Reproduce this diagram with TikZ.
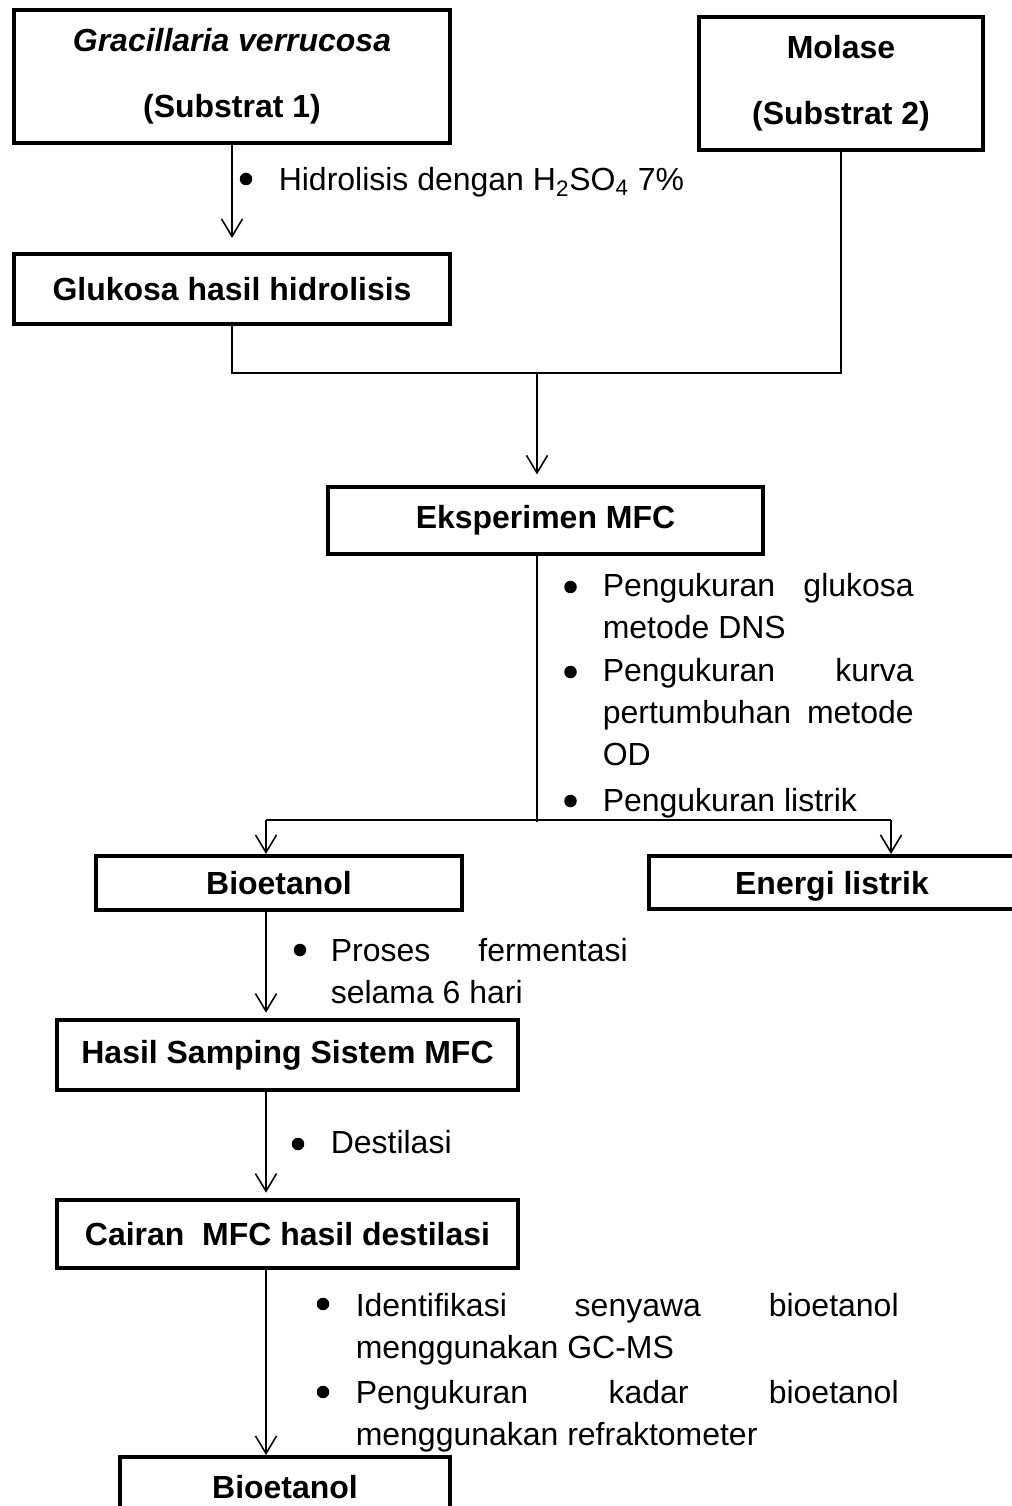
\documentclass[tikz,border=0pt]{standalone}
\usepackage{fontspec}
\setmainfont{Liberation Sans}
\usetikzlibrary{arrows.meta}

\begin{document}
\begin{tikzpicture}[x=0.02cm,y=-0.02cm,>={Straight Barb[length=10pt,width=12pt]},
  line width=0.9pt,
  box/.style={draw,line width=2.3pt,inner sep=0pt,align=center,
    font={\bfseries\fontsize{18.2}{37.5}\selectfont}},
  txt/.style={anchor=base west,inner sep=0pt,font={\fontsize{18.2}{24.1}\selectfont}},
  list/.style={txt,align=justify,
    font={\fontsize{18.2}{24.1}\selectfont\hyphenpenalty=10000\tolerance=10000}},
  dot/.style={circle,fill,inner sep=0pt,minimum size=0.25cm}]
  \useasboundingbox (0,0) rectangle (1011,1506);

  % substrates
  \node[box,minimum width=8.72cm,minimum height=2.66cm] (gv) at (232,76.5)
    {\textit{Gracillaria verrucosa}\\(Substrat 1)};
  \node[box,minimum width=5.68cm,minimum height=2.66cm] (mol) at (841,83.5)
    {Molase\\(Substrat 2)};
  \node[box,minimum width=8.72cm,minimum height=1.40cm] (glu) at (232,289)
    {Glukosa hasil hidrolisis};
  \node[box,minimum width=8.70cm,minimum height=1.34cm] (mfc) at (545.5,520.5)
    {Eksperimen MFC};
  % products
  \node[box,minimum width=7.32cm,minimum height=1.08cm] (bio) at (279,883)
    {Bioetanol};
  \node[box,minimum width=7.32cm,minimum height=1.06cm,text depth=0pt] (el) at (832,882.5)
    {Energi listrik};
  \node[box,minimum width=9.22cm,minimum height=1.40cm] (hs) at (287.5,1055)
    {Hasil Samping Sistem MFC};
  \node[box,minimum width=9.22cm,minimum height=1.36cm] (cd) at (287.5,1234)
    {Cairan~ MFC hasil destilasi};
  \node[box,minimum width=6.60cm,minimum height=1.20cm] (bio2) at (285,1487)
    {Bioetanol};

  % steps
  \node[dot] (d1) at (246,179) {};
  \node[txt] (hid) at (278,191) {Hidrolisis dengan H\textsubscript{2}SO\textsubscript{4} 7\%};
  \foreach \n/\y in {2/587,3/672,4/801}
    \node[dot] (d\n) at (570.5,\y) {};
  \node[list,text width=6.22cm] (dns) at (602,596) {Pengukuran glukosa metode DNS};
  \node[list,text width=6.22cm] (od) at (602,681) {Pengukuran kurva pertumbuhan metode OD};
  \node[txt] (ls) at (602,811) {Pengukuran listrik};
  \node[dot] (d5) at (300,950) {};
  \node[list,text width=5.94cm] (fer) at (330,961) {Proses fermentasi selama 6 hari};
  \node[dot] (d6) at (298,1144) {};
  \node[txt] (des) at (330,1153) {Destilasi};
  \foreach \n/\y in {7/1304,8/1392}
    \node[dot] (d\n) at (323,\y) {};
  \node[list,text width=10.86cm] (gc) at (355,1316) {Identifikasi senyawa bioetanol menggunakan GC-MS};
  \node[list,text width=10.86cm] (ref) at (355,1403) {Pengukuran kadar bioetanol menggunakan refraktometer};

  % connectors
  \coordinate (join) at (537,373);
  \coordinate (split) at (537,822);
  \coordinate (sl) at (266,820);
  \coordinate (sr) at (891,820);
  \draw[->,shorten >=8pt] (gv.south) -- (glu.north);
  \draw (glu.south) |- (join) -| (mol.south);
  \draw[->,shorten >=6pt] (join) -- (join |- mfc.north);
  \draw (join |- mfc.south) -- (split);
  \draw (sl) -- (sr);
  \draw[->] (sl) -- (sl |- bio.north);
  \draw[->] (sr) -- (sr |- el.north);
  \draw[->,shorten >=3pt] (sl |- bio.south) -- (sl |- hs.north);
  \draw[->,shorten >=3pt] (sl |- hs.south) -- (sl |- cd.north);
  \draw[->] (sl |- cd.south) -- (sl |- bio2.north);
\end{tikzpicture}
\end{document}
